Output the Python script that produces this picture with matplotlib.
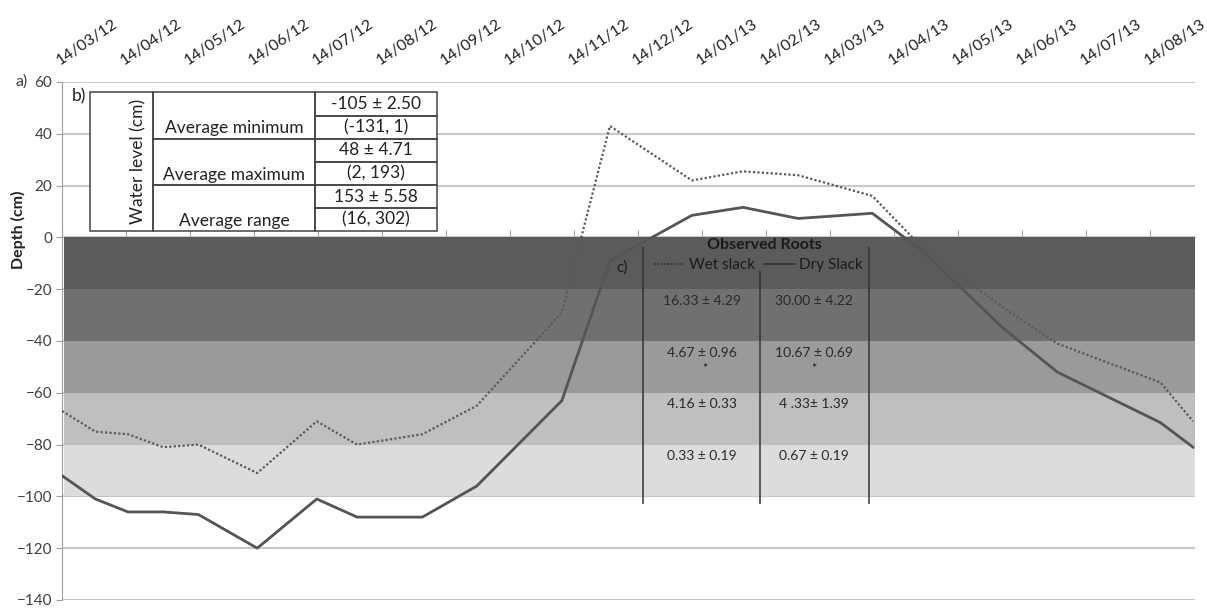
import numpy as np
import matplotlib.pyplot as plt
from matplotlib.patches import Rectangle
from matplotlib.lines import Line2D

plt.rcParams['font.family'] = ['Lato', 'DejaVu Sans']

# sampling dates, in months after 14/03/12
months = [0, 0.52, 1.03, 1.58, 2.13, 3.05, 3.98, 4.61, 5.63, 6.48, 7.81,
          8.56, 9.84, 10.64, 11.50, 12.66, 13.48, 14.70, 15.55, 17.16, 17.67]
wet_slack = [-67, -75, -76, -81, -80, -91, -71, -80, -76, -65, -29,
             43, 22, 25.5, 24, 16, -5, -27, -41, -56, -71]
dry_slack = [-92, -101, -106, -106, -107, -120, -101, -108, -108, -96, -63,
             -9, 8.5, 11.6, 7.3, 9.3, -6, -35, -52, -71.5, -81]

date_labels = ['14/03/12', '14/04/12', '14/05/12', '14/06/12', '14/07/12', '14/08/12',
               '14/09/12', '14/10/12', '14/11/12', '14/12/12', '14/01/13', '14/02/13',
               '14/03/13', '14/04/13', '14/05/13', '14/06/13', '14/07/13', '14/08/13']

# root depth layers (cm) and their shading
layer_tops = [0, -20, -40, -60, -80]
layer_colors = ['#5b5b5b', '#707070', '#9a9a9a', '#bfbfbf', '#dcdcdc']

# observed roots in the layers below 20 cm
root_tops = [-20, -40, -60, -80]
wet_roots = ['16.33 ± 4.29', '4.67 ± 0.96', '4.16 ± 0.33', '0.33 ± 0.19']
dry_roots = ['30.00 ± 4.22', '10.67 ± 0.69', '4 .33± 1.39', '0.67 ± 0.19']
signif = ['', '*', '', '']

# water level summary table
summary_rows = ['Average minimum', 'Average maximum', 'Average range']
summary_mean = ['-105 ± 2.50', '48 ± 4.71', '153 ± 5.58']
summary_span = ['(-131, 1)', '(2, 193)', '(16, 302)']

fig = plt.figure(figsize=(12.07, 6.09), dpi=100)
ax = fig.add_axes([0.0514, 0.0148, 0.9386, 0.8506])
ax.set_xlim(0, 17.7)
ax.set_ylim(-140, 60)

ax.set_yticks(np.arange(-140, 61, 20))
ax.grid(axis='y', color='#c8c8c8', lw=1.5, zorder=0)
ax.set_axisbelow(True)

for top, col in zip(layer_tops, layer_colors):
    ax.axhspan(top - 20, top, xmin=0.002, xmax=1, color=col, lw=0, zorder=1)

ax.plot(months, wet_slack, color='#5a5a5a', lw=1.6, ls=(0, (1, 1)), zorder=4)
ax.plot(months, dry_slack, color='#555555', lw=2.0, zorder=4)

# axes styling
for s in ['top', 'right']:
    ax.spines[s].set_visible(False)
ax.spines['left'].set_color('#a0a0a0')
ax.spines['bottom'].set_position(('data', 0))
ax.spines['bottom'].set_color('#c8c8c8')
ax.spines['bottom'].set_zorder(0.5)
ax.tick_params(axis='y', colors='#a0a0a0', length=4, labelsize=11,
               labelcolor='#404040', pad=3)
ax.set_xticks(range(len(date_labels)))
ax.set_xticklabels(date_labels)
ax.tick_params(axis='x', direction='in', length=5, color='#a0a0a0',
               bottom=True, top=False, labelbottom=False, labeltop=True, pad=10)
for lab in ax.get_xticklabels():
    lab.set_rotation(34)
    lab.set_rotation_mode('anchor')
    lab.set_ha('left')
    lab.set_va('bottom')
    lab.set_fontsize(11.5)
    lab.set_color('#222222')

fig.text(18 / 1207, 1 - 230 / 609, 'Depth (cm)', rotation=90, fontsize=11.5,
         fontweight='bold', ha='center', va='center', color='#222222')
fig.text(16 / 1207, 1 - 82 / 609, 'a)', fontsize=11.5, ha='left', va='center',
         color='#404040')

# b) water level table
tx0, tx1, tx2, tx3 = 0.4375, 1.42, 3.95, 5.86
ty_top, ty_bot = 56.0, 2.3
rh = (ty_top - ty_bot) / 6
tkw = dict(fc='none', ec='#444444', lw=1.1, zorder=6)
ax.add_patch(Rectangle((tx0, ty_bot), tx3 - tx0, ty_top - ty_bot, fc='white',
                       ec='none', zorder=5))
ax.add_patch(Rectangle((tx0, ty_bot), tx1 - tx0, ty_top - ty_bot, **tkw))
for i, name in enumerate(summary_rows):
    y_hi = ty_top - 2 * i * rh
    ax.add_patch(Rectangle((tx1, y_hi - 2 * rh), tx2 - tx1, 2 * rh, **tkw))
    ax.text((tx1 + tx2) / 2, y_hi - 1.55 * rh, name, ha='center', va='center',
            fontsize=12.5, color='#222222', zorder=7)
    for j, val in enumerate([summary_mean[i], summary_span[i]]):
        y_cell = y_hi - (j + 1) * rh
        ax.add_patch(Rectangle((tx2, y_cell), tx3 - tx2, rh, **tkw))
        ax.text((tx2 + tx3) / 2, y_cell + rh / 2, val, ha='center', va='center',
                fontsize=12.5, color='#222222', zorder=7)
ax.text(1.19, (ty_top + ty_bot) / 2, 'Water level (cm)', rotation=90,
        ha='center', va='center', fontsize=12.5, color='#222222', zorder=7)
ax.text(0.15, 54.5, 'b)', ha='left', va='center', fontsize=12.5,
        color='#222222', zorder=7)

# c) observed roots
c_left, c_mid, c_right = 9.08, 10.9, 12.6
c_bottom = -102.8
ax.vlines([c_left, c_right], c_bottom, -3.9, color='#333333', lw=1.1, zorder=5)
ax.vlines(c_mid, c_bottom, -12.8, color='#333333', lw=1.1, zorder=5)
ax.text(10.98, -3.0, 'Observed Roots', ha='center', va='center',
        fontsize=11.5, fontweight='bold', color='#1a1a1a', zorder=6)
ax.text(8.75, -11.8, 'c)', ha='center', va='center', fontsize=11,
        color='#1a1a1a', zorder=6)
handles = [Line2D([], [], color='#333333', lw=1.2, ls=(0, (1, 1))),
           Line2D([], [], color='#333333', lw=1.2)]
ax.legend(handles, ['Wet slack', 'Dry Slack'], ncol=2, frameon=False,
          loc='center', bbox_to_anchor=(10.88, -10.8),
          bbox_transform=ax.transData, fontsize=11, handlelength=2.0,
          handletextpad=0.3, columnspacing=0.6, borderpad=0,
          labelcolor='#1a1a1a')
for k, top in enumerate(root_tops):
    y_txt = top - 4.5
    ax.text(10.0, y_txt, wet_roots[k], ha='center', va='center', fontsize=10,
            color='#2a2a2a', zorder=6)
    ax.text(11.75, y_txt, dry_roots[k], ha='center', va='center', fontsize=10,
            color='#2a2a2a', zorder=6)
    if signif[k]:
        ax.text(10.05, top - 11, signif[k], ha='center', va='center',
                fontsize=9, color='#1a1a1a', zorder=6)
        ax.text(11.75, top - 11, signif[k], ha='center', va='center',
                fontsize=9, color='#1a1a1a', zorder=6)

fig.savefig('out.png', dpi=100)
